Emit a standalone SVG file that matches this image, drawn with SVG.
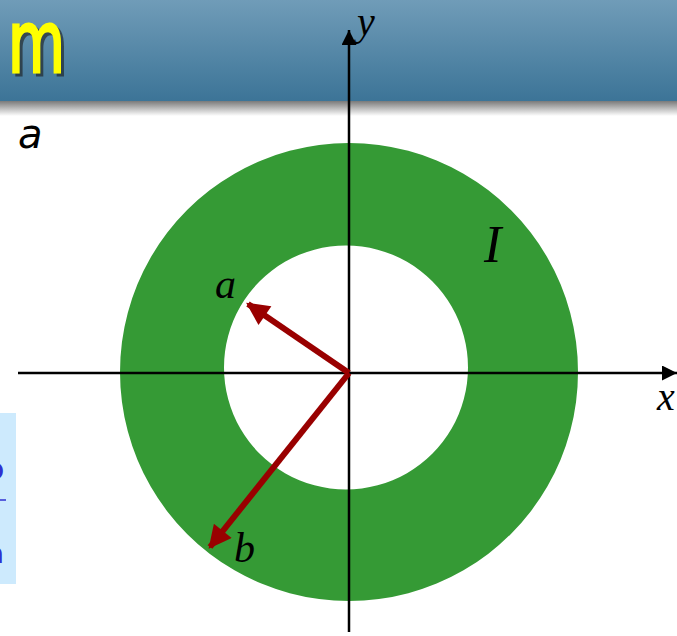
<svg xmlns="http://www.w3.org/2000/svg" width="677" height="636" viewBox="0 0 677 636">
<defs>
<linearGradient id="hdr" x1="0" y1="0" x2="0" y2="1">
<stop offset="0" stop-color="#709cb8"/>
<stop offset="1" stop-color="#3c7497"/>
</linearGradient>
<linearGradient id="shd" x1="0" y1="0" x2="0" y2="1">
<stop offset="0" stop-color="#7a7a7a"/>
<stop offset="1" stop-color="#ffffff"/>
</linearGradient>
<marker id="ah" viewBox="0 0 10 10" refX="9" refY="5" markerWidth="4.2" markerHeight="3.8" orient="auto" markerUnits="strokeWidth">
<path d="M0,0 L10,5 L0,10 z" fill="#990000"/>
</marker>
<marker id="axh" viewBox="0 0 10 10" refX="10" refY="5" markerWidth="6.5" markerHeight="6" orient="auto" markerUnits="strokeWidth">
<path d="M0,0 L10,5 L0,10 z" fill="#000"/>
</marker>
</defs>
<style>
.lbl{font-family:"Liberation Serif",serif;font-style:italic;fill:#000}
.vec{stroke:#990000;stroke-width:6;fill:none}
.axis{stroke:#000;stroke-width:2.5;fill:none}
.ttl{font-family:"DejaVu Sans",sans-serif;font-size:86px}
.blue{font-family:"DejaVu Sans",sans-serif;font-size:28px;font-weight:bold;fill:#3030d0}
</style>
<rect x="0" y="0" width="677" height="636" fill="#fff"/>
<rect x="0" y="0" width="677" height="101" fill="url(#hdr)"/>
<rect x="0" y="101" width="677" height="15" fill="url(#shd)"/>
<g id="title">
<text class="ttl" transform="translate(3,3) scale(0.68,1)" x="-60 11.8" y="72" fill="#1a1a1a" opacity="0.6" stroke="#1a1a1a" stroke-width="3">em</text>
<text class="ttl" transform="scale(0.68,1)" x="-60 11.8" y="72" fill="#ffff00" stroke="#ffff00" stroke-width="3">em</text>
</g>
<text x="18" y="148" font-family="'DejaVu Sans',sans-serif" font-style="italic" font-size="40" fill="#000">a</text>
<g id="sidebox">
<rect x="0" y="413" width="16" height="171" fill="#cdeafd"/>
<text class="blue" x="4" y="479" text-anchor="end">b</text>
<line x1="0" y1="500" x2="6" y2="500" stroke="#3030d0" stroke-width="1.5"/>
<text class="blue" x="4" y="563" text-anchor="end">a</text>
</g>
<g id="annulus">
<path d="M349,143 a229,229 0 1,0 0.01,0 z M346,245.5 a122,122 0 1,1 -0.01,0 z" fill="#359a35" fill-rule="evenodd"/>
</g>
<g id="connectors">
<line class="axis" x1="18" y1="373" x2="677" y2="373" marker-end="url(#axh)"/>
<line class="axis" x1="349" y1="632" x2="349" y2="30" marker-end="url(#axh)"/>
<line class="vec" x1="349" y1="373" x2="248" y2="304" marker-end="url(#ah)"/>
<line class="vec" x1="349" y1="373" x2="210" y2="547" marker-end="url(#ah)"/>
</g>
<g id="labels">
<text class="lbl" x="357" y="35" font-size="40">y</text>
<text class="lbl" x="657" y="410" font-size="40">x</text>
<text class="lbl" x="215" y="298" font-size="42">a</text>
<text class="lbl" x="234" y="562" font-size="42">b</text>
<text class="lbl" x="484" y="262" font-size="52">I</text>
</g>
</svg>
